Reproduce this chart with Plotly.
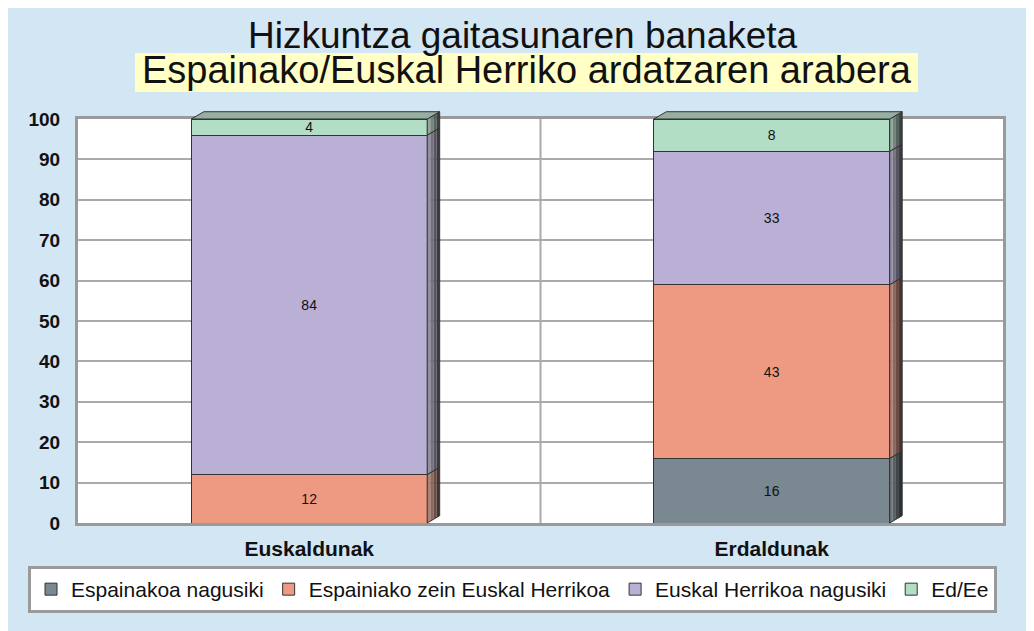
import plotly.graph_objects as go

# ---- data ----
categories = ["Euskaldunak", "Erdaldunak"]
series_names = ["Espainakoa nagusiki", "Espainiako zein Euskal Herrikoa",
                "Euskal Herrikoa nagusiki", "Ed/Ee"]
espainakoa = [0, 16]
espainiako_zein = [12, 43]
euskal_herrikoa = [84, 33]
ed_ee = [4, 8]
y_ticks = [0, 10, 20, 30, 40, 50, 60, 70, 80, 90, 100]

series_values = [espainakoa, espainiako_zein, euskal_herrikoa, ed_ee]
colors = ["#798891", "#ee9a82", "#bab0d6", "#b2dec6"]

BAR_W = 0.51
X_RANGE = [-0.5, 1.5]
Y_RANGE = [0, 100]
DX, DY = 0.0135, 0.018  # 3D depth in paper units

W, H = 1026, 623
ML, MR, MT, MB = 70, 31, 111, 108
PW, PH = W - ML - MR, H - MT - MB
# screen position of plot area (page has 8px body margin)
SX0, SY1 = 78, 523


def sx(X):
    return (X - SX0) / PW


def sy(Y):
    return (SY1 - Y) / PH


fig = go.Figure()
for name, vals, col in zip(series_names, series_values, colors):
    fig.add_trace(go.Bar(
        x=list(range(len(categories))), y=vals, name=name,
        marker=dict(color=col, line=dict(color="#333333", width=1)),
        width=BAR_W,
        text=[str(v) if v else "" for v in vals],
        textposition="inside", insidetextanchor="middle",
        textfont=dict(family="Liberation Sans, Arial", size=14, color="#111111"),
        textangle=0,
    ))


def px(xv):
    return (xv - X_RANGE[0]) / (X_RANGE[1] - X_RANGE[0])


def py(v):
    return (v - Y_RANGE[0]) / (Y_RANGE[1] - Y_RANGE[0])


def shade(hexcol, f):
    r, g, b = int(hexcol[1:3], 16), int(hexcol[3:5], 16), int(hexcol[5:7], 16)
    gray = 100
    r, g, b = [min(255, int((c * 0.55 + gray * 0.45) * f)) for c in (r, g, b)]
    return f"rgb({r},{g},{b})"


shapes = []
# vertical category separator grid line
shapes.append(dict(type="line", xref="paper", yref="paper", x0=0.5, x1=0.5, y0=0, y1=1,
                   line=dict(color="#aaaaaa", width=2), layer="below"))
# yellow highlight box behind the subtitle
shapes.append(dict(type="rect", xref="paper", yref="paper", x0=sx(135), x1=sx(918),
                   y0=sy(92), y1=sy(53), fillcolor="#ffffc6", line=dict(width=0),
                   layer="below"))

# 3D side faces and top face, derived from data
for i in range(len(categories)):
    xr = px(i + BAR_W / 2)
    xl = px(i - BAR_W / 2)
    base = 0
    top_total = sum(v[i] for v in series_values)
    for vals, col in zip(series_values, colors):
        v = vals[i]
        if v <= 0:
            continue
        y0, y1 = py(base), py(base + v)
        facs = [1.0, 0.8, 0.6, 0.4]
        nstrip = len(facs)
        for k in range(nstrip):
            a = xr + DX * k / nstrip
            b = xr + DX * (k + 1) / nstrip
            fa = DY * k / nstrip
            fb = DY * (k + 1) / nstrip
            path = (f"M {a},{y0 + fa} L {b},{y0 + fb} L {b},{y1 + fb} L {a},{y1 + fa} Z")
            shapes.append(dict(type="path", xref="paper", yref="paper", path=path,
                               fillcolor=shade(col, facs[k]),
                               line=dict(width=0), layer="above"))
        path = f"M {xr},{y0} L {xr + DX},{y0 + DY} L {xr + DX},{y1 + DY} L {xr},{y1} Z"
        shapes.append(dict(type="path", xref="paper", yref="paper", path=path,
                           fillcolor="rgba(0,0,0,0)", line=dict(color="#333333", width=1),
                           layer="above"))
        base += v
    # top face
    yt = py(top_total)
    top_col = colors[-1]
    path = f"M {xl},{yt} L {xl + DX},{yt + DY} L {xr + DX},{yt + DY} L {xr},{yt} Z"
    shapes.append(dict(type="path", xref="paper", yref="paper", path=path,
                       fillcolor=shade(top_col, 1.05), line=dict(color="#333333", width=1),
                       layer="above"))

annotations = [
    dict(text="Hizkuntza gaitasunaren banaketa", xref="paper", yref="paper",
         x=sx(523), y=sy(35), xanchor="center", yanchor="middle",
         showarrow=False, font=dict(family="Liberation Sans, Arial", size=37, color="#111111")),
    dict(text="Espainako/Euskal Herriko ardatzaren arabera", xref="paper", yref="paper",
         x=sx(527), y=sy(70), xanchor="center", yanchor="middle",
         showarrow=False,
         font=dict(family="Liberation Sans, Arial", size=38, color="#111111")),
]

fig.update_layout(
    barmode="stack",
    width=W, height=H,
    margin=dict(l=ML, r=MR, t=MT, b=MB),
    paper_bgcolor="#d2e6f4",
    plot_bgcolor="white",
    shapes=shapes,
    annotations=annotations,
    showlegend=True,
    uniformtext=dict(minsize=14, mode="show"),
    legend=dict(orientation="h", x=sx(28), xanchor="left",
                y=sy(566), yanchor="top",
                bgcolor="white", bordercolor="#9a9a9a", borderwidth=3,
                traceorder="normal",
                font=dict(family="Liberation Sans, Arial", size=21, color="#111111")),
    xaxis=dict(range=X_RANGE, tickmode="array", tickvals=list(range(len(categories))),
               ticktext=categories, showgrid=False, zeroline=False,
               showline=True, mirror=True, linecolor="#9a9a9a", linewidth=3,
               ticks="outside", ticklen=5, tickcolor="rgba(0,0,0,0)",
               tickfont=dict(family="Liberation Sans, Arial", size=21, color="#111111",
                             weight="bold")),
    yaxis=dict(range=Y_RANGE, tickvals=y_ticks, showgrid=True, gridcolor="#aaaaaa",
               gridwidth=2, zeroline=False,
               showline=True, mirror=True, linecolor="#9a9a9a", linewidth=3,
               ticks="outside", ticklen=11, tickcolor="rgba(0,0,0,0)",
               tickfont=dict(family="Liberation Sans, Arial", size=19, color="#111111",
                             weight="bold")),
)

fig.write_html("out.html")
